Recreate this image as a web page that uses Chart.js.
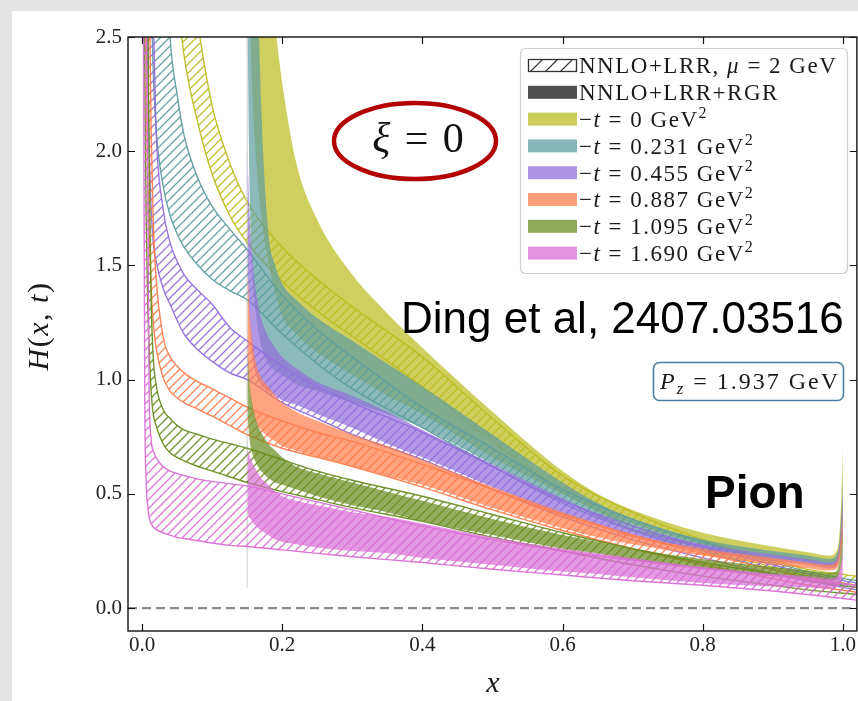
<!DOCTYPE html>
<html>
<head>
<meta charset="utf-8">
<script src="https://cdn.jsdelivr.net/npm/chart.js@4.4.1/dist/chart.umd.min.js"></script>
<style>
  html, body { margin: 0; padding: 0; background: #fff; }
  canvas { display: block; }
</style>
</head>
<body>
<canvas id="gpdChart" width="858" height="701"></canvas>
<script>
// ---- axis ticks and labels ----
const X_TICKS = [0, 0.2, 0.4, 0.6, 0.8, 1.0];
const Y_TICKS = [0, 0.5, 1.0, 1.5, 2.0, 2.5];
const T_VALUES = ['0', '0.231', '0.455', '0.887', '1.095', '1.690'];

// ---- NNLO+LRR (hatched) bands ----
const X_LRR = [0.002, 0.004, 0.006, 0.008, 0.01, 0.013, 0.016, 0.02, 0.03, 0.04, 0.05, 0.06, 0.08, 0.1, 0.125, 0.15, 0.2, 0.25, 0.3, 0.4, 0.5, 0.6, 0.7, 0.8, 0.9, 0.95, 1.02];
const lrrHi_t0 = [30, 25, 20, 17, 15, 12, 10, 8.5, 6, 4.5, 3.6, 3.0, 2.55, 2.2, 1.95, 1.78, 1.58, 1.44, 1.32, 1.1, 0.83, 0.58, 0.42, 0.3, 0.21, 0.17, 0.14];
const lrrLo_t0 = [20, 15, 12, 10, 8.5, 7, 6, 5, 3.8, 3.1, 2.7, 2.42, 2.12, 1.9, 1.72, 1.6, 1.43, 1.3, 1.19, 0.97, 0.73, 0.51, 0.36, 0.26, 0.18, 0.14, 0.1];
const lrrHi_t1 = [20, 15, 11, 9, 7.5, 6, 5, 4.2, 3.2, 2.5, 2.25, 2.07, 1.88, 1.76, 1.66, 1.57, 1.37, 1.22, 1.1, 0.88, 0.7, 0.52, 0.39, 0.29, 0.2, 0.16, 0.12];
const lrrLo_t1 = [10, 7, 5, 4, 3.3, 2.7, 2.35, 2.1, 1.85, 1.72, 1.64, 1.58, 1.5, 1.44, 1.39, 1.35, 1.2, 1.07, 0.96, 0.79, 0.62, 0.46, 0.34, 0.25, 0.17, 0.13, 0.09];
const lrrHi_t2 = [10, 8, 6, 5, 4, 3.2, 2.6, 2.1, 1.75, 1.6, 1.52, 1.46, 1.39, 1.33, 1.23, 1.17, 1.06, 0.97, 0.9, 0.77, 0.62, 0.47, 0.36, 0.27, 0.19, 0.15, 0.11];
const lrrLo_t2 = [6, 4, 3.0, 2.4, 2.05, 1.75, 1.6, 1.52, 1.4, 1.33, 1.26, 1.2, 1.13, 1.08, 1.03, 1.0, 0.9, 0.83, 0.76, 0.65, 0.52, 0.4, 0.3, 0.22, 0.15, 0.12, 0.08];
const lrrHi_t3 = [8, 6, 4.5, 3.5, 2.8, 2.1, 1.7, 1.45, 1.19, 1.1, 1.06, 1.03, 0.99, 0.96, 0.92, 0.88, 0.82, 0.77, 0.73, 0.63, 0.52, 0.41, 0.32, 0.24, 0.17, 0.13, 0.1];
const lrrLo_t3 = [4.5, 3.0, 2.3, 1.9, 1.65, 1.4, 1.25, 1.14, 1.01, 0.95, 0.92, 0.9, 0.87, 0.84, 0.8, 0.76, 0.7, 0.66, 0.62, 0.53, 0.43, 0.34, 0.26, 0.19, 0.13, 0.1, 0.07];
const lrrHi_t4 = [6, 4.5, 3.5, 2.8, 2.0, 1.35, 1.1, 0.98, 0.87, 0.83, 0.8, 0.78, 0.76, 0.74, 0.72, 0.7, 0.65, 0.6, 0.56, 0.49, 0.41, 0.33, 0.26, 0.2, 0.15, 0.12, 0.09];
const lrrLo_t4 = [3.5, 2.3, 1.7, 1.35, 1.15, 0.95, 0.85, 0.8, 0.72, 0.68, 0.66, 0.645, 0.62, 0.6, 0.575, 0.55, 0.51, 0.475, 0.44, 0.38, 0.31, 0.25, 0.19, 0.14, 0.1, 0.08, 0.06];
const lrrHi_t5 = [4.0, 3.0, 2.6, 2.0, 1.0, 0.74, 0.69, 0.66, 0.62, 0.6, 0.59, 0.58, 0.565, 0.555, 0.545, 0.535, 0.5, 0.465, 0.43, 0.36, 0.3, 0.25, 0.21, 0.175, 0.145, 0.125, 0.1];
const lrrLo_t5 = [2.6, 0.9, 0.55, 0.45, 0.4, 0.37, 0.355, 0.345, 0.33, 0.32, 0.31, 0.305, 0.295, 0.285, 0.275, 0.27, 0.255, 0.24, 0.225, 0.2, 0.17, 0.145, 0.12, 0.1, 0.075, 0.06, 0.035];

// ---- NNLO+LRR+RGR (solid) bands ----
const X_RGR = [0.1505, 0.153, 0.157, 0.162, 0.17, 0.18, 0.19, 0.2, 0.22, 0.25, 0.3, 0.35, 0.4, 0.5, 0.6, 0.65, 0.7, 0.8, 0.9, 0.95, 0.98, 0.99, 0.995, 0.998, 1.0];
const rgrHi_t0 = [6, 5.5, 4.8, 4.0, 3.3, 2.85, 2.55, 2.3, 1.95, 1.7, 1.46, 1.29, 1.14, 0.86, 0.6, 0.5, 0.43, 0.33, 0.27, 0.245, 0.23, 0.245, 0.32, 0.5, 0.7];
const rgrLo_t0 = [4.0, 2.9, 2.3, 2.0, 1.72, 1.52, 1.38, 1.28, 1.2, 1.12, 1.02, 0.93, 0.85, 0.66, 0.5, 0.43, 0.37, 0.28, 0.23, 0.21, 0.2, 0.205, 0.24, 0.32, 0.4];
const rgrHi_t1 = [5, 4.5, 3.8, 3.1, 2.2, 1.65, 1.5, 1.42, 1.35, 1.27, 1.17, 1.07, 0.97, 0.76, 0.55, 0.46, 0.39, 0.3, 0.25, 0.23, 0.215, 0.23, 0.29, 0.42, 0.58];
const rgrLo_t1 = [2.6, 1.9, 1.5, 1.3, 1.15, 1.07, 1.04, 1.02, 0.98, 0.95, 0.9, 0.85, 0.79, 0.63, 0.47, 0.4, 0.34, 0.265, 0.215, 0.2, 0.185, 0.19, 0.22, 0.28, 0.35];
const rgrHi_t2 = [2.0, 1.75, 1.55, 1.4, 1.27, 1.19, 1.14, 1.1, 1.05, 0.99, 0.93, 0.86, 0.78, 0.63, 0.48, 0.41, 0.35, 0.28, 0.235, 0.215, 0.2, 0.21, 0.27, 0.38, 0.5];
const rgrLo_t2 = [1.5, 1.28, 1.12, 1.03, 0.98, 0.95, 0.93, 0.91, 0.89, 0.85, 0.79, 0.72, 0.66, 0.53, 0.41, 0.36, 0.31, 0.25, 0.205, 0.19, 0.175, 0.18, 0.21, 0.26, 0.31];
const rgrHi_t3 = [1.5, 1.32, 1.18, 1.08, 1.01, 0.97, 0.93, 0.9, 0.86, 0.82, 0.76, 0.71, 0.65, 0.53, 0.42, 0.37, 0.32, 0.26, 0.22, 0.2, 0.19, 0.2, 0.25, 0.34, 0.44];
const rgrLo_t3 = [1.1, 0.98, 0.88, 0.82, 0.78, 0.75, 0.73, 0.71, 0.69, 0.66, 0.62, 0.58, 0.54, 0.44, 0.35, 0.31, 0.28, 0.23, 0.19, 0.175, 0.165, 0.17, 0.2, 0.25, 0.3];
const rgrHi_t4 = [1.15, 1.0, 0.9, 0.83, 0.77, 0.72, 0.69, 0.66, 0.62, 0.59, 0.55, 0.51, 0.47, 0.39, 0.32, 0.29, 0.26, 0.215, 0.18, 0.165, 0.155, 0.16, 0.2, 0.27, 0.35];
const rgrLo_t4 = [0.85, 0.75, 0.68, 0.64, 0.6, 0.57, 0.55, 0.54, 0.52, 0.49, 0.45, 0.42, 0.38, 0.32, 0.26, 0.24, 0.21, 0.17, 0.14, 0.13, 0.12, 0.125, 0.15, 0.19, 0.23];
const rgrHi_t5 = [0.7, 0.67, 0.64, 0.61, 0.57, 0.54, 0.51, 0.49, 0.47, 0.45, 0.42, 0.4, 0.37, 0.31, 0.26, 0.24, 0.22, 0.18, 0.15, 0.14, 0.13, 0.135, 0.16, 0.2, 0.25];
const rgrLo_t5 = [0.42, 0.4, 0.38, 0.36, 0.34, 0.32, 0.3, 0.29, 0.28, 0.265, 0.25, 0.24, 0.22, 0.19, 0.16, 0.15, 0.135, 0.11, 0.095, 0.09, 0.085, 0.09, 0.1, 0.12, 0.14];

// reference lines
const ZERO_X = [-0.02, 1.02];
const ZERO_Y = [0, 0];
const CUT_X = [0.15, 0.15];
const CUT_Y = [2.5, 0.09];

const BAND_COLORS = ['#bcbd22', '#5f9ea0', '#9370db', '#ff7f50', '#6b8e23', '#da70d6'];

const bands = [
  { t: T_VALUES[0], color: BAND_COLORS[0], lrrHi: lrrHi_t0, lrrLo: lrrLo_t0, rgrHi: rgrHi_t0, rgrLo: rgrLo_t0 },
  { t: T_VALUES[1], color: BAND_COLORS[1], lrrHi: lrrHi_t1, lrrLo: lrrLo_t1, rgrHi: rgrHi_t1, rgrLo: rgrLo_t1 },
  { t: T_VALUES[2], color: BAND_COLORS[2], lrrHi: lrrHi_t2, lrrLo: lrrLo_t2, rgrHi: rgrHi_t2, rgrLo: rgrLo_t2 },
  { t: T_VALUES[3], color: BAND_COLORS[3], lrrHi: lrrHi_t3, lrrLo: lrrLo_t3, rgrHi: rgrHi_t3, rgrLo: rgrLo_t3 },
  { t: T_VALUES[4], color: BAND_COLORS[4], lrrHi: lrrHi_t4, lrrLo: lrrLo_t4, rgrHi: rgrHi_t4, rgrLo: rgrLo_t4 },
  { t: T_VALUES[5], color: BAND_COLORS[5], lrrHi: lrrHi_t5, lrrLo: lrrLo_t5, rgrHi: rgrHi_t5, rgrLo: rgrLo_t5 }
];

const SERIF = '"Liberation Serif", "DejaVu Serif", serif';
const SANS = '"Liberation Sans", Arial, sans-serif';

function rgba(hex, a) {
  const n = parseInt(hex.slice(1), 16);
  return `rgba(${(n >> 16) & 255},${(n >> 8) & 255},${n & 255},${a})`;
}

const canvas = document.getElementById('gpdChart');
const ctx = canvas.getContext('2d');

// diagonal "/" hatch, like matplotlib hatch='//'
function hatchPattern(color, size) {
  const c = document.createElement('canvas');
  c.width = c.height = size;
  const g = c.getContext('2d');
  g.strokeStyle = color;
  g.lineWidth = 1.3;
  g.beginPath();
  g.moveTo(0, size); g.lineTo(size, 0);
  g.moveTo(-2, 2); g.lineTo(2, -2);
  g.moveTo(size - 2, size + 2); g.lineTo(size + 2, size - 2);
  g.stroke();
  return ctx.createPattern(c, 'repeat');
}

function toPoints(xs, ys) {
  return xs.map((x, i) => ({ x: x, y: ys[i] }));
}

function bandDatasets(xs, hi, lo, fill, line, lineWidth) {
  return [
    { data: toPoints(xs, hi), fill: '+1', backgroundColor: fill, borderColor: line, borderWidth: lineWidth },
    { data: toPoints(xs, lo), fill: false, borderColor: line, borderWidth: lineWidth }
  ];
}

// dataset 0 is painted last, so list from top layer to bottom layer
const datasets = [];
for (let i = bands.length - 1; i >= 0; i--) {
  const b = bands[i];
  datasets.push(...bandDatasets(X_LRR, b.lrrHi, b.lrrLo, hatchPattern(rgba(b.color, 0.95), 9), rgba(b.color, 0.95), 1.4));
  datasets.push(...bandDatasets(X_RGR, b.rgrHi, b.rgrLo, rgba(b.color, 0.72), 'rgba(0,0,0,0)', 1));
}
datasets.push({ data: toPoints(CUT_X, CUT_Y), borderColor: 'rgba(205,205,205,0.9)', borderWidth: 1.2, fill: false });
datasets.push({ data: toPoints(ZERO_X, ZERO_Y), borderColor: '#8a8a8a', borderWidth: 2.4, borderDash: [9, 5], fill: false });

// ---- rich text helper (italic / sup / sub pieces) ----
function richText(g, x, y, parts, size, family, spacing, measureOnly) {
  let cx = x;
  g.letterSpacing = (spacing || 0) + 'px';
  for (const [txt, st] of parts) {
    let fs = size, dy = 0;
    const it = st && st.includes('i') ? 'italic ' : '';
    if (st && st.includes('sup')) { fs = size * 0.7; dy = -size * 0.4; }
    if (st && st.includes('sub')) { fs = size * 0.7; dy = size * 0.22; }
    g.font = `${it}${fs}px ${family}`;
    if (!measureOnly) g.fillText(txt, cx, y + dy);
    cx += g.measureText(txt).width;
  }
  g.letterSpacing = '0px';
  return cx - x;
}

function roundRectPath(g, x, y, w, h, r) {
  g.beginPath();
  g.moveTo(x + r, y);
  g.lineTo(x + w - r, y); g.arcTo(x + w, y, x + w, y + r, r);
  g.lineTo(x + w, y + h - r); g.arcTo(x + w, y + h, x + w - r, y + h, r);
  g.lineTo(x + r, y + h); g.arcTo(x, y + h, x, y + h - r, r);
  g.lineTo(x, y + r); g.arcTo(x, y, x + r, y, r);
  g.closePath();
}

const legendRows = [
  { kind: 'hatch', parts: [['NNLO+LRR, '], ['μ', 'i'], [' = 2 GeV']] },
  { kind: 'solid', color: 'rgba(60,60,60,0.9)', parts: [['NNLO+LRR+RGR']] }
].concat(bands.map(b => ({
  kind: 'solid', color: rgba(b.color, 0.75),
  parts: [['−'], ['t', 'i'], [' = ' + b.t + ' GeV'], ['2', 'sup']]
})));

const decorPlugin = {
  id: 'decor',
  beforeDraw(chart) {
    const g = chart.ctx;
    g.save();
    g.fillStyle = '#ffffff';
    g.fillRect(0, 0, chart.width, chart.height);
    g.fillStyle = '#e3e3e3';
    g.fillRect(0, 0, chart.width, 11);
    g.fillRect(0, 0, 12, chart.height);
    g.restore();
  },
  afterDraw(chart) {
    const g = chart.ctx;
    const a = chart.chartArea;
    const xs = chart.scales.x, ys = chart.scales.y;
    g.save();

    // frame and inward ticks on all four sides
    g.strokeStyle = '#111';
    g.lineWidth = 1.4;
    g.strokeRect(a.left, a.top, a.right - a.left, a.bottom - a.top);
    g.lineWidth = 1.2;
    g.beginPath();
    X_TICKS.forEach(v => {
      const px = Math.round(xs.getPixelForValue(v)) + 0.5;
      g.moveTo(px, a.bottom); g.lineTo(px, a.bottom - 7);
      g.moveTo(px, a.top); g.lineTo(px, a.top + 7);
    });
    Y_TICKS.forEach(v => {
      const py = Math.round(ys.getPixelForValue(v)) + 0.5;
      g.moveTo(a.left, py); g.lineTo(a.left + 7, py);
      g.moveTo(a.right, py); g.lineTo(a.right - 7, py);
    });
    g.stroke();

    // legend
    g.fillStyle = 'rgba(255,255,255,0.85)';
    g.strokeStyle = '#cfcfcf';
    g.lineWidth = 1.2;
    roundRectPath(g, 520.5, 48.5, 327, 225, 5);
    g.fill(); g.stroke();
    legendRows.forEach((row, r) => {
      const cy = 65.5 + r * 26.8;
      const sx = 528, sw = 49, sh = 13, sy = cy - sh / 2;
      if (row.kind === 'hatch') {
        g.save();
        g.fillStyle = '#fff';
        g.fillRect(sx, sy, sw, sh);
        g.beginPath(); g.rect(sx, sy, sw, sh); g.clip();
        g.strokeStyle = '#333'; g.lineWidth = 1.2;
        g.beginPath();
        for (let k = -sh; k < sw + sh; k += 15) { g.moveTo(sx + k, sy + sh); g.lineTo(sx + k + sh, sy); }
        g.stroke();
        g.restore();
        g.strokeStyle = '#333'; g.lineWidth = 1.3;
        g.strokeRect(sx + 0.5, sy + 0.5, sw - 1, sh - 1);
      } else {
        g.fillStyle = row.color;
        g.fillRect(sx, sy, sw, sh);
      }
      g.fillStyle = '#1a1a1a';
      g.textBaseline = 'alphabetic';
      g.textAlign = 'left';
      richText(g, 579, cy + 7.8, row.parts, 23, SERIF, 1.5);
    });

    // xi = 0 in red ellipse
    g.strokeStyle = '#b30000';
    g.lineWidth = 4.5;
    g.beginPath();
    g.ellipse(415, 141, 81, 38, 0, 0, Math.PI * 2);
    g.stroke();
    g.fillStyle = '#111';
    const xiParts = [['ξ', 'i'], [' = 0']];
    const xiW = richText(g, 0, 0, xiParts, 42, SERIF, 2, true);
    richText(g, 419 - xiW / 2, 152, xiParts, 42, SERIF, 2);

    // annotations
    g.fillStyle = '#000';
    g.font = `44px ${SANS}`;
    g.fillText('Ding et al, 2407.03516', 401, 333);
    g.font = `bold 46px ${SANS}`;
    g.fillText('Pion', 705, 508);

    g.fillStyle = '#fff';
    g.strokeStyle = '#4b7d9e';
    g.lineWidth = 1.6;
    roundRectPath(g, 653.5, 362.5, 190, 38, 6);
    g.fill(); g.stroke();
    g.fillStyle = '#1a1a1a';
    richText(g, 660, 389, [['P', 'i'], ['z', 'i sub'], [' = 1.937 GeV']], 24, SERIF, 2.0);

    // axis titles
    g.fillStyle = '#1a1a1a';
    const hParts = [['H', 'i'], ['('], ['x', 'i'], [', '], ['t', 'i'], [')']];
    const hW = richText(g, 0, 0, hParts, 30, SERIF, 1.5, true);
    g.save();
    g.translate(38, 326);
    g.rotate(-Math.PI / 2);
    richText(g, -hW / 2, 10, hParts, 30, SERIF, 1.5);
    g.restore();
    const xW = richText(g, 0, 0, [['x', 'i']], 30, SERIF, 0, true);
    richText(g, 493 - xW / 2, 692, [['x', 'i']], 30, SERIF, 0);

    g.restore();
  }
};

const tickFont = { family: SERIF, size: 21 };

new Chart(ctx, {
  type: 'line',
  data: { datasets: datasets },
  options: {
    responsive: false,
    animation: false,
    devicePixelRatio: 1,
    layout: { padding: { left: 0, top: 37, right: 1, bottom: 0 } },
    elements: {
      point: { radius: 0, hoverRadius: 0 },
      line: { cubicInterpolationMode: 'monotone' }
    },
    plugins: { legend: { display: false }, tooltip: { enabled: false } },
    events: [],
    scales: {
      x: {
        type: 'linear', min: -0.02, max: 1.02,
        afterBuildTicks: s => { s.ticks = X_TICKS.map(v => ({ value: v })); },
        afterFit: s => { s.height = 70; },
        ticks: { font: tickFont, color: '#222', padding: 2, maxRotation: 0, autoSkip: false, callback: v => Number(v).toFixed(1) },
        grid: { display: false, drawTicks: false, tickLength: 0 },
        border: { display: false }
      },
      y: {
        type: 'linear', min: -0.1, max: 2.5,
        afterBuildTicks: s => { s.ticks = Y_TICKS.map(v => ({ value: v })); },
        afterFit: s => { s.width = 128; },
        ticks: { font: tickFont, color: '#222', padding: 6, autoSkip: false, callback: v => Number(v).toFixed(1) },
        grid: { display: false, drawTicks: false, tickLength: 0 },
        border: { display: false }
      }
    }
  },
  plugins: [decorPlugin]
});
</script>
</body>
</html>
